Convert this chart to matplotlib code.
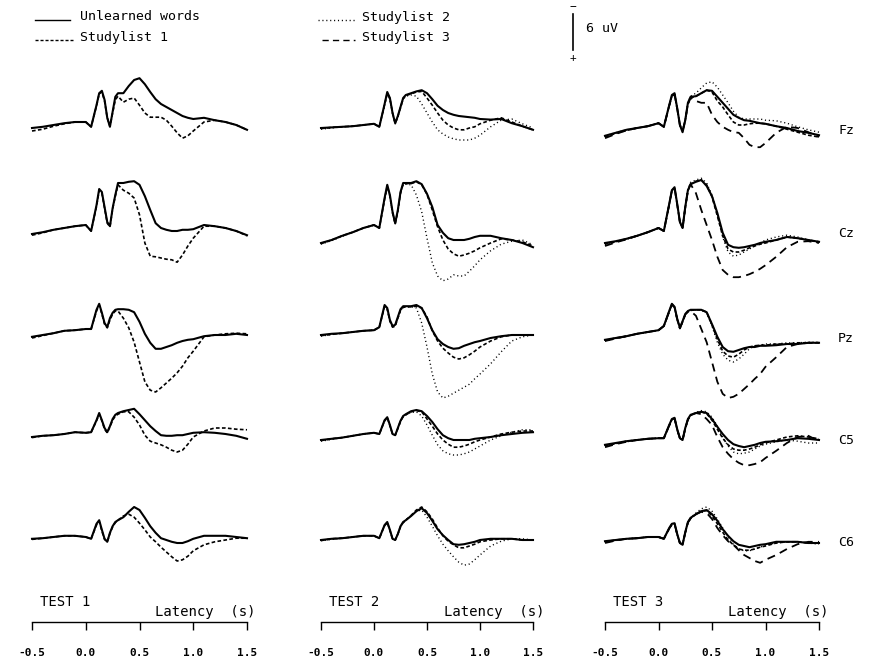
import matplotlib
matplotlib.use("Agg")
import matplotlib.pyplot as plt
from matplotlib.lines import Line2D

W, H = 869, 660
fig = plt.figure(figsize=(W / 100, H / 100), dpi=100)
plt.rcParams['font.family'] = ['DejaVu Sans Mono', 'DejaVu Sans']

# ---------------- data (latency in s, amplitude in uV, negative = up) ----------
T = [-0.5, -0.4, -0.3, -0.2, -0.1, 0.0, 0.05, 0.1, 0.125, 0.15, 0.175, 0.2, 0.225,
     0.25, 0.275, 0.3, 0.35, 0.4, 0.45, 0.5, 0.55, 0.6, 0.65, 0.7, 0.75, 0.8, 0.85,
     0.9, 0.95, 1.0, 1.1, 1.2, 1.3, 1.4, 1.5]

CONDITIONS = ["Unlearned words", "Studylist 1", "Studylist 2", "Studylist 3"]
ELECTRODES = ["Fz", "Cz", "Pz", "C5", "C6"]
TESTS = ["TEST 1", "TEST 2", "TEST 3"]
TICKS = [-0.5, 0.0, 0.5, 1.0, 1.5]
TICK_LABELS = ["-0.5", "0.0", "0.5", "1.0", "1.5"]
SCALE_UV = 6

# TEST 1
FZ1_UNL = [0.5, 0.3, 0, -0.3, -0.5, -0.5, 0.3, -3.3, -5.3, -5.7, -4.2, -1.2, 0.3, -2.2, -4.7, -5.3, -5.3, -6.5, -7.5, -7.8, -6.8, -5.5, -4.3, -3.5, -3.0, -2.5, -2.0, -1.5, -1.2, -1.0, -1.2, -0.8, -0.5, 0.0, 0.8]
FZ1_S1 = [1.0, 0.7, 0.2, -0.2, -0.5, -0.5, 0.3, -3.2, -5.2, -5.5, -4.0, -1.2, 0.2, -2.0, -4.2, -4.8, -3.8, -4.3, -4.5, -3.3, -2.0, -1.3, -1.3, -1.3, -0.8, 0.2, 1.3, 2.2, 1.8, 1.0, -0.5, -0.8, -0.5, 0.0, 0.8]
CZ1_UNL = [1.0, 0.7, 0.3, 0, -0.3, -0.5, 0.5, -3.8, -6.5, -6.0, -3.5, -1.0, -0.3, -3.3, -5.5, -7.5, -7.5, -7.7, -7.8, -7.2, -5.3, -3.0, -0.8, 0.0, 0.3, 0.5, 0.5, 0.3, 0.3, 0.2, -0.5, -0.3, 0.0, 0.5, 1.2]
CZ1_S1 = [1.2, 0.8, 0.3, 0, -0.3, -0.5, 0.5, -3.6, -6.3, -5.8, -3.3, -0.8, -0.2, -3.2, -5.3, -7.2, -6.3, -5.8, -5.0, -2.2, 2.5, 4.7, 4.8, 5.0, 5.2, 5.3, 5.7, 4.5, 3.0, 1.7, -0.3, -0.3, 0.0, 0.5, 1.3]
PZ1_UNL = [0.8, 0.5, 0.2, -0.2, -0.3, -0.5, -0.5, -3.7, -4.7, -3.2, -1.5, -0.8, -2.3, -3.2, -3.7, -3.8, -3.8, -3.7, -3.3, -1.7, 0.3, 1.8, 2.8, 2.8, 2.5, 2.2, 1.8, 1.5, 1.3, 1.2, 0.7, 0.5, 0.5, 0.3, 0.5]
PZ1_S1 = [1.0, 0.6, 0.2, -0.2, -0.3, -0.5, -0.5, -3.5, -4.5, -3.0, -1.3, -0.7, -2.0, -3.0, -3.5, -3.5, -2.3, -0.7, 1.7, 5.0, 8.3, 9.7, 10.0, 9.3, 8.5, 7.7, 6.8, 5.7, 4.3, 3.2, 0.8, 0.5, 0.3, 0.2, 0.3]
C51_UNL = [0.5, 0.3, 0.2, 0, -0.3, -0.2, -0.3, -2.3, -3.5, -2.3, -1.0, -0.3, -1.3, -2.5, -3.2, -3.5, -3.8, -4.0, -4.2, -3.3, -2.3, -1.3, -0.5, 0.2, 0.3, 0.3, 0.2, 0.2, 0.0, -0.2, -0.3, -0.2, 0.0, 0.3, 0.8]
C51_S1 = [0.6, 0.3, 0.2, 0, -0.3, -0.2, -0.3, -2.2, -3.3, -2.2, -0.8, -0.2, -1.2, -2.3, -3.0, -3.3, -3.7, -3.7, -2.8, -1.5, 0.2, 1.2, 1.5, 1.8, 2.2, 2.7, 3.0, 2.7, 1.7, 0.5, -0.5, -1.0, -1.0, -0.8, -0.7]
C61_UNL = [0.3, 0.2, 0, -0.2, -0.2, 0, 0.3, -2.2, -2.8, -1.2, 0.3, 0.8, -0.7, -1.8, -2.5, -2.8, -3.3, -4.2, -5.0, -4.5, -3.2, -1.8, -0.7, 0.2, 0.5, 0.8, 1.0, 1.0, 0.7, 0.3, -0.2, -0.2, -0.2, 0.0, 0.2]
C61_S1 = [0.4, 0.2, 0, -0.2, -0.2, 0, 0.3, -2.0, -2.6, -1.0, 0.4, 0.8, -0.6, -1.7, -2.4, -2.8, -3.5, -3.8, -3.3, -2.3, -1.2, 0.0, 0.8, 1.7, 2.5, 3.3, 4.0, 3.8, 3.2, 2.3, 1.3, 0.8, 0.5, 0.2, 0.2]

# TEST 2
FZ2_UNL = [0.5, 0.4, 0.3, 0.2, 0.0, -0.2, 0.3, -3.5, -5.5, -4.5, -2.0, -0.3, -1.5, -3.0, -4.5, -5.0, -5.3, -5.6, -5.8, -5.3, -4.3, -3.2, -2.5, -2.0, -1.7, -1.5, -1.4, -1.3, -1.2, -1.0, -0.9, -1.0, -0.3, 0.2, 0.8]
FZ2_S1 = [0.6, 0.4, 0.3, 0.2, 0.0, -0.2, 0.3, -3.4, -5.3, -4.4, -2.0, -0.3, -1.4, -2.9, -4.4, -4.9, -5.2, -5.5, -5.6, -4.5, -3.3, -2.0, -0.8, 0.0, 0.5, 0.8, 0.8, 0.5, 0.3, -0.2, -0.8, -1.2, -0.5, 0.2, 0.8]
FZ2_S2 = [0.7, 0.5, 0.3, 0.2, 0.0, -0.2, 0.3, -3.3, -5.2, -4.3, -1.9, -0.2, -1.3, -2.8, -4.3, -4.8, -5.0, -4.8, -3.5, -2.0, -0.5, 0.8, 1.5, 2.0, 2.3, 2.5, 2.5, 2.5, 2.2, 1.7, 0.3, -0.8, -1.0, -0.2, 0.5]
CZ2_UNL = [2.5, 2.0, 1.3, 0.7, 0.0, -0.5, 0.0, -5.0, -7.2, -5.5, -2.7, -0.8, -3.0, -6.0, -7.5, -7.5, -7.5, -7.8, -7.3, -5.7, -3.5, -0.5, 0.8, 1.7, 2.0, 2.0, 2.0, 1.8, 1.5, 1.3, 1.3, 1.7, 2.0, 2.5, 3.2]
CZ2_S1 = [2.6, 2.0, 1.3, 0.7, 0.0, -0.5, 0.0, -4.8, -7.0, -5.3, -2.5, -0.7, -2.8, -5.8, -7.3, -7.4, -7.4, -7.7, -7.2, -5.6, -3.0, -0.2, 2.0, 3.5, 4.3, 4.7, 4.5, 4.2, 3.8, 3.3, 2.5, 1.8, 2.0, 2.3, 3.0]
CZ2_S2 = [2.7, 2.1, 1.4, 0.7, 0.0, -0.5, 0.0, -4.8, -7.0, -5.3, -2.5, -0.7, -2.8, -5.8, -7.3, -7.3, -7.2, -5.5, -2.7, 1.7, 5.8, 8.0, 8.8, 8.5, 7.8, 8.0, 8.0, 7.2, 6.3, 5.3, 3.8, 2.7, 2.2, 2.0, 2.8]
PZ2_UNL = [0.5, 0.3, 0.2, 0.0, -0.2, -0.3, -0.8, -4.5, -4.0, -2.0, -1.0, -1.2, -2.5, -3.8, -4.3, -4.3, -4.3, -4.5, -4.0, -2.3, -0.3, 1.2, 2.0, 2.5, 2.8, 2.7, 2.3, 2.0, 1.7, 1.5, 1.0, 0.7, 0.5, 0.5, 0.5]
PZ2_S1 = [0.6, 0.4, 0.2, 0.0, -0.2, -0.3, -0.8, -4.3, -3.8, -1.8, -0.8, -1.0, -2.3, -3.6, -4.1, -4.2, -4.2, -4.3, -4.0, -2.5, -0.2, 1.5, 2.7, 3.5, 4.2, 4.5, 4.3, 3.8, 3.2, 2.5, 1.5, 0.8, 0.5, 0.5, 0.5]
PZ2_S2 = [0.7, 0.4, 0.2, 0.0, -0.2, -0.3, -0.8, -4.3, -3.8, -1.8, -0.8, -1.0, -2.3, -3.6, -4.1, -4.2, -4.2, -4.0, -1.5, 2.5, 7.0, 10.0, 11.0, 10.7, 10.2, 9.7, 9.2, 8.7, 7.8, 7.0, 5.3, 3.3, 1.5, 0.8, 0.5]
C52_UNL = [1.0, 0.8, 0.6, 0.3, 0.0, -0.2, 0.0, -2.3, -2.8, -1.5, 0.0, 0.2, -1.0, -2.2, -3.0, -3.3, -3.8, -4.0, -3.8, -3.0, -2.0, -0.8, 0.2, 0.7, 1.0, 1.0, 1.0, 1.0, 0.8, 0.7, 0.5, 0.2, 0.0, -0.2, -0.3]
C52_S1 = [1.1, 0.8, 0.6, 0.3, 0.0, -0.2, 0.0, -2.2, -2.7, -1.4, 0.0, 0.2, -0.9, -2.1, -2.9, -3.2, -3.7, -3.9, -3.7, -2.5, -1.3, 0.0, 1.0, 1.7, 2.2, 2.2, 2.0, 1.7, 1.3, 1.0, 0.5, 0.0, -0.3, -0.5, -0.5]
C52_S2 = [1.2, 0.9, 0.6, 0.3, 0.0, -0.2, 0.0, -2.2, -2.7, -1.4, 0.0, 0.2, -0.9, -2.1, -2.9, -3.2, -3.6, -3.7, -3.0, -1.5, 0.2, 1.8, 2.8, 3.3, 3.5, 3.5, 3.3, 3.0, 2.5, 2.0, 1.0, 0.3, -0.3, -0.7, -0.7]
C62_UNL = [0.5, 0.3, 0.2, 0.0, -0.2, -0.2, 0.2, -2.0, -2.5, -1.2, 0.3, 0.5, -0.5, -1.8, -2.5, -2.8, -3.5, -4.3, -4.8, -4.0, -2.7, -1.3, -0.3, 0.5, 1.2, 1.3, 1.2, 1.0, 0.8, 0.5, 0.3, 0.3, 0.3, 0.5, 0.5]
C62_S1 = [0.6, 0.3, 0.2, 0.0, -0.2, -0.2, 0.2, -1.9, -2.4, -1.1, 0.3, 0.5, -0.5, -1.7, -2.4, -2.8, -3.6, -4.5, -5.0, -4.2, -3.0, -1.5, -0.2, 0.7, 1.3, 1.8, 1.8, 1.5, 1.2, 0.8, 0.5, 0.3, 0.3, 0.5, 0.5]
C62_S2 = [0.6, 0.4, 0.2, 0.0, -0.2, -0.2, 0.2, -1.9, -2.4, -1.1, 0.3, 0.5, -0.5, -1.7, -2.4, -2.8, -3.6, -4.3, -4.5, -3.3, -1.8, -0.2, 1.2, 2.3, 3.3, 4.2, 4.7, 4.5, 3.8, 3.0, 1.5, 0.7, 0.3, 0.3, 0.5]

# TEST 3
FZ3_UNL = [1.8, 1.3, 0.8, 0.5, 0.2, -0.3, 0.3, -3.3, -5.0, -5.3, -2.8, 0.0, 1.2, -0.8, -3.7, -4.7, -4.8, -5.3, -5.8, -5.7, -4.7, -3.7, -2.7, -1.7, -1.2, -0.8, -0.7, -0.5, -0.3, -0.2, 0.2, 0.5, 1.0, 1.3, 1.7]
FZ3_S1 = [2.0, 1.4, 0.9, 0.5, 0.2, -0.3, 0.3, -3.2, -4.8, -5.1, -2.7, 0.0, 1.0, -0.8, -3.5, -4.5, -4.8, -5.3, -5.8, -5.5, -4.0, -3.0, -1.7, -0.5, 0.0, 0.0, -0.2, -0.3, -0.3, -0.2, 0.2, 0.7, 1.2, 1.7, 2.0]
FZ3_S2 = [1.8, 1.3, 0.8, 0.5, 0.2, -0.3, 0.3, -3.2, -4.8, -5.2, -2.8, 0.0, 1.0, -0.8, -3.7, -4.8, -5.3, -6.2, -7.0, -7.2, -6.3, -5.0, -3.7, -2.3, -1.3, -1.0, -1.0, -1.0, -1.0, -0.8, -0.7, -0.3, 0.3, 0.8, 1.2]
FZ3_S3 = [2.2, 1.5, 0.9, 0.5, 0.2, -0.3, 0.3, -3.2, -4.8, -5.1, -2.7, 0.0, 1.0, -0.8, -3.5, -4.5, -4.0, -3.7, -3.7, -1.7, -0.5, 0.3, 0.8, 1.2, 1.3, 2.2, 3.3, 3.7, 3.7, 3.0, 1.3, 0.3, 0.5, 1.2, 2.0]
CZ3_UNL = [2.5, 2.2, 1.8, 1.3, 0.7, 0.0, 0.5, -4.0, -6.3, -6.8, -4.0, -1.0, 0.0, -3.5, -6.3, -7.3, -7.7, -8.0, -7.0, -5.3, -2.5, 0.8, 2.8, 3.2, 3.3, 3.2, 3.0, 2.8, 2.5, 2.3, 2.0, 1.5, 1.7, 2.0, 2.3]
CZ3_S1 = [2.7, 2.3, 1.8, 1.3, 0.7, 0.0, 0.5, -3.9, -6.2, -6.7, -3.9, -1.0, 0.0, -3.4, -6.2, -7.3, -7.8, -8.0, -7.2, -5.2, -2.0, 1.3, 3.5, 4.0, 4.0, 3.7, 3.3, 3.0, 2.7, 2.5, 2.0, 1.5, 1.7, 2.0, 2.3]
CZ3_S2 = [2.8, 2.3, 1.9, 1.3, 0.7, 0.0, 0.5, -3.9, -6.2, -6.7, -3.9, -1.0, 0.0, -3.4, -6.4, -7.6, -8.0, -8.3, -7.5, -5.5, -2.2, 1.5, 4.0, 4.7, 4.5, 4.0, 3.5, 3.0, 2.5, 2.0, 1.5, 1.2, 1.5, 2.0, 2.5]
CZ3_S3 = [3.0, 2.4, 1.9, 1.3, 0.7, 0.0, 0.5, -3.9, -6.2, -6.7, -3.9, -1.0, 0.0, -3.4, -6.3, -7.3, -5.8, -3.0, -0.5, 2.0, 4.8, 7.0, 7.8, 8.2, 8.2, 8.0, 7.7, 7.3, 6.8, 6.2, 4.8, 3.2, 2.3, 2.2, 2.5]
PZ3_UNL = [1.3, 1.0, 0.7, 0.3, 0.0, -0.3, -1.0, -3.5, -4.7, -4.2, -2.2, -0.7, -1.8, -3.0, -3.5, -3.7, -3.7, -3.7, -3.3, -1.3, 0.8, 2.5, 3.2, 3.3, 3.0, 2.7, 2.5, 2.5, 2.3, 2.3, 2.2, 2.0, 2.0, 1.8, 1.8]
PZ3_S1 = [1.4, 1.0, 0.7, 0.3, 0.0, -0.3, -1.0, -3.4, -4.6, -4.1, -2.1, -0.6, -1.7, -2.9, -3.4, -3.6, -3.7, -3.7, -3.3, -1.2, 1.2, 3.2, 4.0, 4.2, 3.7, 3.0, 2.5, 2.3, 2.2, 2.2, 2.0, 2.0, 1.8, 1.8, 1.8]
PZ3_S2 = [1.5, 1.1, 0.7, 0.3, 0.0, -0.3, -1.0, -3.4, -4.6, -4.1, -2.1, -0.6, -1.7, -2.9, -3.4, -3.6, -3.7, -3.6, -3.2, -1.0, 1.7, 3.7, 4.7, 5.0, 4.5, 3.7, 2.8, 2.3, 2.2, 2.0, 2.0, 1.8, 1.8, 1.7, 1.7]
PZ3_S3 = [1.5, 1.1, 0.7, 0.3, 0.0, -0.3, -1.0, -3.4, -4.6, -4.1, -2.1, -0.6, -1.7, -2.9, -3.4, -3.5, -2.7, -0.5, 1.7, 5.0, 8.3, 10.3, 11.0, 10.8, 10.3, 9.5, 8.7, 7.8, 7.0, 5.8, 4.2, 2.5, 2.0, 1.8, 1.8]
C53_UNL = [1.8, 1.5, 1.2, 1.0, 0.8, 0.7, 0.7, -1.5, -2.5, -2.7, -0.8, 0.7, 1.0, -1.0, -2.5, -3.2, -3.5, -3.7, -3.5, -2.5, -1.2, 0.0, 1.0, 1.7, 2.0, 2.2, 2.0, 1.8, 1.5, 1.3, 1.2, 1.0, 0.7, 0.8, 1.0]
C53_S1 = [2.0, 1.6, 1.2, 1.0, 0.8, 0.7, 0.7, -1.4, -2.4, -2.6, -0.7, 0.7, 1.0, -0.9, -2.4, -3.1, -3.5, -3.7, -3.4, -2.3, -0.8, 0.7, 1.8, 2.5, 2.7, 2.7, 2.5, 2.2, 1.8, 1.5, 1.0, 0.5, 0.3, 0.5, 0.8]
C53_S2 = [2.0, 1.6, 1.3, 1.0, 0.8, 0.7, 0.7, -1.4, -2.4, -2.6, -0.7, 0.7, 1.0, -0.9, -2.4, -3.1, -3.6, -3.9, -3.7, -2.8, -1.3, 0.5, 2.0, 3.0, 3.3, 3.2, 3.0, 2.5, 2.0, 1.7, 1.3, 1.0, 1.2, 1.5, 1.5]
C53_S3 = [2.2, 1.7, 1.3, 1.0, 0.8, 0.7, 0.7, -1.4, -2.4, -2.6, -0.7, 0.7, 1.0, -0.9, -2.4, -3.1, -3.5, -3.3, -2.5, -1.5, 0.5, 2.2, 3.3, 4.2, 4.8, 5.2, 5.2, 5.0, 4.7, 4.0, 2.8, 1.5, 0.5, 0.3, 1.2]
C63_UNL = [0.7, 0.5, 0.3, 0.2, 0.0, 0.0, 0.3, -1.5, -2.2, -2.3, -0.5, 1.0, 1.3, -0.8, -2.5, -3.2, -3.8, -4.3, -4.5, -3.8, -2.7, -1.3, -0.2, 0.7, 1.3, 1.5, 1.7, 1.5, 1.3, 1.2, 0.8, 0.8, 0.8, 1.0, 1.0]
C63_S1 = [0.8, 0.5, 0.3, 0.2, 0.0, 0.0, 0.3, -1.4, -2.1, -2.2, -0.4, 1.0, 1.2, -0.7, -2.4, -3.1, -3.8, -4.3, -4.4, -3.5, -2.2, -0.8, 0.5, 1.3, 2.0, 2.2, 2.2, 2.0, 1.7, 1.5, 1.0, 0.8, 0.8, 1.0, 1.0]
C63_S2 = [0.9, 0.6, 0.3, 0.2, 0.0, 0.0, 0.3, -1.4, -2.1, -2.2, -0.4, 1.0, 1.2, -0.7, -2.4, -3.2, -4.0, -4.7, -5.0, -4.3, -3.0, -1.5, 0.0, 1.2, 2.0, 2.3, 2.3, 2.0, 1.7, 1.3, 1.0, 0.8, 0.8, 1.0, 1.2]
C63_S3 = [1.0, 0.6, 0.3, 0.2, 0.0, 0.0, 0.3, -1.4, -2.1, -2.2, -0.4, 1.0, 1.2, -0.7, -2.4, -3.1, -3.8, -4.2, -4.0, -3.0, -1.5, -0.3, 0.7, 1.3, 2.2, 3.0, 3.5, 4.0, 4.3, 3.8, 3.0, 2.0, 1.2, 0.8, 0.8]

GRID = [
    [[FZ1_UNL, FZ1_S1], [FZ2_UNL, FZ2_S1, FZ2_S2], [FZ3_UNL, FZ3_S1, FZ3_S2, FZ3_S3]],
    [[CZ1_UNL, CZ1_S1], [CZ2_UNL, CZ2_S1, CZ2_S2], [CZ3_UNL, CZ3_S1, CZ3_S2, CZ3_S3]],
    [[PZ1_UNL, PZ1_S1], [PZ2_UNL, PZ2_S1, PZ2_S2], [PZ3_UNL, PZ3_S1, PZ3_S2, PZ3_S3]],
    [[C51_UNL, C51_S1], [C52_UNL, C52_S1, C52_S2], [C53_UNL, C53_S1, C53_S2, C53_S3]],
    [[C61_UNL, C61_S1], [C62_UNL, C62_S1, C62_S2], [C63_UNL, C63_S1, C63_S2, C63_S3]],
]

# ---------------- layout (pixels) ----------------
COL_X0 = [32, 321, 605]
COL_X1 = [247, 533, 819]
ROW_Y = [125, 228, 332, 434, 537]
PX_PER_UV = 6.0
HALF_UV = 13

STYLES = [
    dict(color='black', lw=1.5, ls='-'),
    dict(color='black', lw=1.2, ls=(0, (2.2, 1.4))),
    dict(color='black', lw=1.0, ls=(0, (0.8, 2.0))),
    dict(color='black', lw=1.3, ls=(0, (4.5, 3.0))),
]


def px_axes(x0, x1, ytop, ybot):
    return fig.add_axes([x0 / W, 1 - ybot / H, (x1 - x0) / W, (ybot - ytop) / H])


def fx(x):
    return x / W


def fy(y):
    return 1 - y / H


for r, elec in enumerate(ELECTRODES):
    for c in range(3):
        half_px = HALF_UV * PX_PER_UV
        ax = px_axes(COL_X0[c], COL_X1[c], ROW_Y[r] - half_px, ROW_Y[r] + half_px)
        ax.set_xlim(-0.5, 1.5)
        ax.set_ylim(HALF_UV, -HALF_UV)
        ax.axis('off')
        curves = GRID[r][c]
        for k in reversed(range(len(curves))):
            ax.plot(T, curves[k], clip_on=False, solid_joinstyle='round',
                    dash_capstyle='butt', **STYLES[k])
    fig.text(fx(838), fy(ROW_Y[r] + 6), elec, fontsize=9.5, ha='left', va='center')

# bottom latency axes
for c, test in enumerate(TESTS):
    ax = px_axes(COL_X0[c], COL_X1[c], 600, 622)
    ax.set_xlim(-0.5, 1.5)
    ax.set_ylim(0, 1)
    for s in ['top', 'left', 'right']:
        ax.spines[s].set_visible(False)
    ax.spines['bottom'].set_linewidth(1.0)
    ax.patch.set_alpha(0)
    ax.set_yticks([])
    ax.set_xticks(TICKS)
    ax.set_xticklabels(TICK_LABELS, fontsize=8, fontweight='bold')
    ax.tick_params(axis='x', direction='out', length=6, width=1.0, pad=13)
    fig.text(fx(COL_X0[c] + 8), fy(602), test, fontsize=10, ha='left', va='center')
    fig.text(fx(COL_X0[c] + 123), fy(612), "Latency  (s)", fontsize=10, ha='left', va='center')

# legend
LEG = [(35, 70, 17, 80, 0), (35, 73, 37, 80, 1), (318, 355, 17, 362, 2), (322, 355, 37, 362, 3)]
for x0, x1, y, xt, k in LEG:
    st = dict(STYLES[k])
    st['lw'] = 1.0
    fig.add_artist(Line2D([fx(x0), fx(x1)], [fy(y + 3), fy(y + 3)], **st))
    fig.text(fx(xt), fy(y), CONDITIONS[k], fontsize=9.5, ha='left', va='center')

# scale bar
sax = px_axes(560, 600, 14, 14 + SCALE_UV * PX_PER_UV)
sax.set_xlim(0, 1)
sax.set_ylim(SCALE_UV, 0)
sax.axis('off')
sax.plot([0.32, 0.32], [0, SCALE_UV], color='black', lw=1.2, clip_on=False)
sax.text(0.32, -1.2, "\u2212", ha='center', va='center', fontsize=8)
sax.text(0.32, SCALE_UV + 1.3, "+", ha='center', va='center', fontsize=8)
sax.text(0.65, SCALE_UV * 0.4, "6 uV", ha='left', va='center', fontsize=9.5)

fig.savefig("out.png", dpi=100, facecolor='white')
